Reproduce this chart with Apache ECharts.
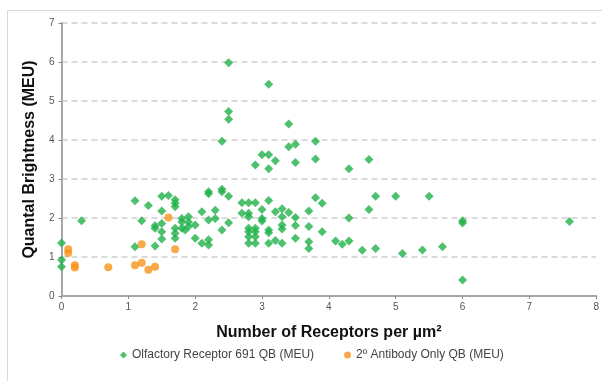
<!DOCTYPE html>
<html><head><meta charset="utf-8">
<script src="https://cdn.jsdelivr.net/npm/echarts@6/dist/echarts.min.js"></script>
<style>html,body{margin:0;padding:0;background:#fff}#c{width:602px;height:381px}</style>
</head><body><div id="c"></div>
<script>
var seriesNames = ['Olfactory Receptor 691 QB (MEU)', '2º Antibody Only QB (MEU)'];
var xTicks = [0,1,2,3,4,5,6,7,8];
var yTicks = [0,1,2,3,4,5,6,7];
var receptorQB = [
[0,1.36],[0,0.92],[0,0.75],[0.3,1.93],
[1.1,2.44],[1.1,1.26],[1.2,1.93],[1.3,2.32],[1.4,1.80],[1.4,1.74],[1.4,1.28],
[1.5,2.56],[1.5,2.18],[1.5,1.86],[1.5,1.65],[1.5,1.46],
[1.6,2.58],
[1.7,2.47],[1.7,2.38],[1.7,2.29],[1.7,1.74],[1.7,1.61],[1.7,1.48],
[1.8,1.99],[1.8,1.90],[1.8,1.74],[1.85,1.69],[1.9,2.03],[1.9,1.90],[1.9,1.78],
[2.0,1.82],[2.0,1.48],
[2.1,2.16],[2.1,1.35],[2.2,2.67],[2.2,2.62],[2.2,1.95],[2.2,1.44],[2.2,1.31],
[2.3,2.2],[2.3,1.99],
[2.4,2.74],[2.4,2.67],[2.4,1.69],[2.4,3.97],
[2.5,2.56],[2.5,1.88],[2.5,5.98],[2.5,4.73],[2.5,4.53],
[2.7,2.39],[2.7,2.12],
[2.8,2.39],[2.8,2.12],[2.8,2.03],[2.8,1.74],[2.8,1.65],[2.8,1.52],[2.8,1.35],
[2.9,2.39],[2.9,1.74],[2.9,1.65],[2.9,1.52],[2.9,1.35],[2.9,3.36],
[3.0,2.22],[3.0,1.99],[3.0,1.92],[3.0,3.62],
[3.1,2.45],[3.1,1.69],[3.1,1.62],[3.1,1.35],[3.1,5.43],[3.1,3.62],[3.1,3.26],
[3.2,2.16],[3.2,1.42],[3.2,3.47],
[3.3,2.24],[3.3,2.03],[3.3,1.82],[3.3,1.72],[3.3,1.35],
[3.4,2.14],[3.4,4.41],[3.4,3.83],
[3.5,3.89],[3.5,3.42],[3.5,2.01],[3.5,1.81],[3.5,1.48],
[3.7,2.18],[3.7,1.78],[3.7,1.39],[3.7,1.22],
[3.8,3.97],[3.8,3.51],[3.8,2.52],
[3.9,2.38],[3.9,1.65],
[4.1,1.41],[4.2,1.33],[4.3,1.41],[4.3,2.0],[4.3,3.26],
[4.5,1.17],[4.6,3.5],[4.6,2.22],[4.7,2.56],[4.7,1.22],
[5.0,2.56],[5.1,1.09],[5.4,1.18],[5.5,2.56],[5.7,1.26],
[6.0,1.93],[6.0,1.87],[6.0,0.41],[7.6,1.91]
];
var antibodyQB = [
[0.1,1.2],[0.1,1.1],[0.2,0.79],[0.2,0.73],[0.7,0.74],[1.1,0.79],[1.2,0.85],[1.2,1.33],[1.3,0.67],[1.4,0.75],[1.6,2.01],[1.7,1.2]
];

var chart = echarts.init(document.getElementById('c'));
var fam = 'Liberation Sans, Arial, sans-serif';
chart.setOption({
  animation: false,
  graphic: [{type:'rect', shape:{x:7.5,y:10.5,width:700,height:500}, style:{fill:'none', stroke:'#d9d9d9', lineWidth:1}, z:-10}],
  grid: {left: 61.5, right: 2, top: 23, bottom: 85},
  legend: {
    left: 115, top: 344, itemGap: 30, itemWidth: 7, itemHeight: 7,
    textStyle: {fontFamily: fam, fontSize: 12, color: '#444'},
    data: [{name: seriesNames[0], icon: 'diamond'}, {name: seriesNames[1], icon: 'circle'}]
  },
  xAxis: {
    type: 'value', min: xTicks[0], max: xTicks[xTicks.length-1], interval: 1,
    name: 'Number of Receptors per µm²', nameLocation: 'middle', nameGap: 29,
    nameTextStyle: {fontFamily: fam, fontSize: 16, fontWeight: 'bold', color: '#111'},
    axisLine: {lineStyle: {color: '#a6a6a6', width: 2}},
    axisTick: {show: true, length: 3, lineStyle: {color: '#888'}},
    axisLabel: {fontFamily: fam, fontSize: 10, color: '#555', margin: 6},
    splitLine: {show: false}
  },
  yAxis: {
    type: 'value', min: yTicks[0], max: yTicks[yTicks.length-1], interval: 1,
    name: 'Quantal Brightness (MEU)', nameLocation: 'middle', nameGap: 13,
    nameTextStyle: {fontFamily: fam, fontSize: 16, fontWeight: 'bold', color: '#111'},
    axisLine: {show: true, lineStyle: {color: '#a6a6a6', width: 2}},
    axisTick: {show: true, length: 3, lineStyle: {color: '#888'}},
    axisLabel: {fontFamily: fam, fontSize: 10, color: '#555', margin: 7},
    splitLine: {show: true, lineStyle: {color: '#cfcfcf', width: 1.5, type: [6, 4]}}
  },
  series: [
    {name: seriesNames[0], type: 'scatter', data: receptorQB, symbol: 'diamond', symbolSize: 9,
     itemStyle: {color: '#22b24a'}},
    {name: seriesNames[1], type: 'scatter', data: antibodyQB, symbol: 'circle', symbolSize: 8,
     itemStyle: {color: '#f7941d'}}
  ]
});
</script></body></html>
